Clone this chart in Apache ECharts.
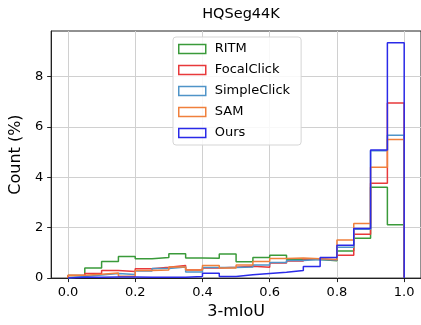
<!DOCTYPE html>
<html>
<head>
<meta charset="utf-8">
<script src="https://cdn.jsdelivr.net/npm/echarts@6/dist/echarts.min.js"></script>
<style>html,body{margin:0;padding:0;background:#fff}#c{width:421px;height:325px}</style>
</head>
<body>
<div id="c"></div>
<script>
const binEdges = [0.0,0.05,0.1,0.15,0.2,0.25,0.3,0.35,0.4,0.45,0.5,0.55,0.6,0.65,0.7,0.75,0.8,0.85,0.9,0.95,1.0];
const seriesNames = ['RITM','FocalClick','SimpleClick','SAM','Ours'];
const ritm        = [0.1,0.4,0.66,0.86,0.77,0.82,0.97,0.8,0.79,0.96,0.65,0.82,0.91,0.75,0.74,0.69,1.07,1.58,3.6,2.12];
const focalClick  = [0.1,0.18,0.3,0.26,0.37,0.43,0.5,0.32,0.4,0.43,0.47,0.43,0.6,0.68,0.76,0.72,0.91,1.74,3.76,6.94];
const simpleClick = [0.06,0.12,0.18,0.14,0.28,0.38,0.44,0.24,0.42,0.42,0.44,0.52,0.62,0.7,0.74,0.72,1.22,1.94,5.05,5.67];
const sam         = [0.11,0.15,0.2,0.07,0.3,0.32,0.44,0.32,0.5,0.4,0.52,0.66,0.78,0.8,0.77,0.74,1.51,2.17,4.4,5.5];
const ours        = [0.03,0.03,0.04,0.04,0.03,0.03,0.03,0.06,0.19,0.06,0.13,0.18,0.23,0.3,0.46,0.82,1.3,1.97,5.08,9.33];
const xTicks = [0.0,0.2,0.4,0.6,0.8,1.0];
const yTicks = [0,2,4,6,8];
const colors = ['#3a9a3a','#e8393b','#4f94c8','#f0803c','#2a2ae8'];
const allValues = [ritm, focalClick, simpleClick, sam, ours];

function stepPoints(vals){
  const pts = [[binEdges[0],0]];
  for(let i=0;i<vals.length;i++){
    pts.push([binEdges[i],vals[i]]);
    pts.push([binEdges[i+1],vals[i]]);
  }
  pts.push([binEdges[binEdges.length-1],0]);
  return pts;
}

const FONT = 'DejaVu Sans';
const chart = echarts.init(document.getElementById('c'), null, {renderer:'canvas'});
chart.setOption({
  animation:false,
  textStyle:{fontFamily:FONT},
  title:{text:'HQSeg44K', left:236, top:2, textAlign:'center',
    textStyle:{fontFamily:FONT, fontSize:14.5, fontWeight:'normal', color:'#000'}},
  grid:{left:49, top:31, right:-3, bottom:41, show:true, borderColor:'#222', borderWidth:1, backgroundColor:'transparent'},
  legend:{
    orient:'vertical', left:173, top:37,
    padding:[5,11,5,5], itemWidth:27, itemHeight:9, itemGap:7,
    backgroundColor:'rgba(255,255,255,0.85)', borderColor:'#d5d5d5', borderWidth:1, borderRadius:3,
    textStyle:{fontFamily:FONT, fontSize:13, color:'#000', lineHeight:14, padding:[0,0,0,4]},
    data: seriesNames.map((n,i)=>({name:n, icon:'rect',
      itemStyle:{color:'rgba(0,0,0,0)', borderColor:colors[i], borderWidth:1.5}}))
  },
  xAxis:{
    type:'value', min:-0.05, max:1.05,
    name:'3-mIoU', nameLocation:'middle', nameGap:25,
    nameTextStyle:{fontFamily:FONT, fontSize:16, color:'#000'},
    axisLine:{onZero:false, lineStyle:{color:'#222', width:1}},
    axisTick:{show:true, length:4, customValues:xTicks, lineStyle:{color:'#222'}},
    axisLabel:{customValues:xTicks, margin:8, fontFamily:FONT, fontSize:13, color:'#000',
      formatter:v=>v.toFixed(1)},
    splitLine:{show:true, lineStyle:{color:'#d0d0d0', width:1}}
  },
  yAxis:{
    type:'value', min:0, max:9.8,
    name:'Count (%)', nameLocation:'middle', nameGap:23,
    nameTextStyle:{fontFamily:FONT, fontSize:16, color:'#000'},
    axisLine:{show:true, onZero:false, lineStyle:{color:'#222', width:1}},
    axisTick:{show:true, length:4, customValues:yTicks, lineStyle:{color:'#222'}},
    axisLabel:{customValues:yTicks, margin:8, fontFamily:FONT, fontSize:13, color:'#000'},
    splitLine:{show:true, lineStyle:{color:'#d0d0d0', width:1}}
  },
  series: allValues.map((vals,i)=>({
    name:seriesNames[i], type:'line', data:stepPoints(vals),
    symbol:'none', color:colors[i],
    lineStyle:{color:colors[i], width:1.5},
    itemStyle:{color:colors[i]}
  }))
});
</script>
</body>
</html>
